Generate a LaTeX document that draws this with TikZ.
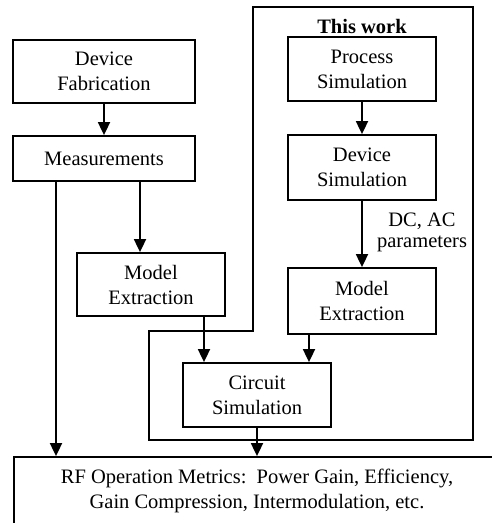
\documentclass[tikz,border=0pt]{standalone}
\usepackage{fontspec}
\setmainfont{Liberation Serif}
\usetikzlibrary{arrows.meta}
\begin{document}
\begin{tikzpicture}[x=1pt,y=-1pt,
  box/.style={draw,line width=1.8pt,align=center,inner sep=0pt,
    font=\fontsize{20.5}{25}\selectfont},
  arr/.style={line width=1.8pt,-{Triangle[width=12pt,length=13pt]}},
  lbl/.style={align=center,inner sep=0pt,font=\fontsize{20.5}{21}\selectfont}]
\useasboundingbox (0,0) rectangle (492,523);
\clip (0,0) rectangle (492,523);
% outline of "This work"
\draw[line width=1.8pt] (253,331) -- (253,7) -- (473,7) -- (473,440) -- (149,440) -- (149,331) -- cycle;
\node[lbl,font=\fontsize{20.5}{25}\selectfont\bfseries] (tw) at (362,26) {This work};
% left column
\node[box,minimum width=182pt,minimum height=63pt] (df) at (104,71.5) {Device\\Fabrication};
\node[box,minimum width=182pt,minimum height=45pt] (meas) at (104,158.5) {Measurements};
\node[box,minimum width=148pt,minimum height=63pt] (mel) at (151,284.5) {Model\\Extraction};
\node[box,minimum width=148pt,minimum height=64pt] (cs) at (257,395) {Circuit\\Simulation};
% right column
\node[box,minimum width=148pt,minimum height=64pt] (ps) at (362,69) {Process\\Simulation};
\node[box,minimum width=148pt,minimum height=65pt] (ds) at (362,167.5) {Device\\Simulation};
\node[box,minimum width=148pt,minimum height=66pt] (mer) at (362,301) {Model\\Extraction};
% bottom box
\node[box,minimum width=486pt,minimum height=68pt] (rf) at (257,491)
  {RF Operation Metrics:\ \ Power Gain, Efficiency,\\Gain Compression, Intermodulation, etc.};
\node[lbl] (dcac) at (422,232) {DC, AC\\parameters};
% connectors
\draw[arr] (df.south) -- (meas.north);
\draw[arr] ([xshift=-48pt]meas.south) -- ([xshift=-48pt]meas.south |- rf.north);
\draw[arr] ([xshift=36pt]meas.south) -- ([xshift=36pt]meas.south |- mel.north);
\draw[arr] ([xshift=53pt]mel.south) -- ([xshift=53pt]mel.south |- cs.north);
\draw[arr] (ps.south) -- (ds.north);
\draw[arr] (ds.south) -- (mer.north);
\draw[arr] ([xshift=-53pt]mer.south) -- ([xshift=-53pt]mer.south |- cs.north);
\draw[arr] (cs.south) -- (cs.south |- rf.north);
\end{tikzpicture}
\end{document}
